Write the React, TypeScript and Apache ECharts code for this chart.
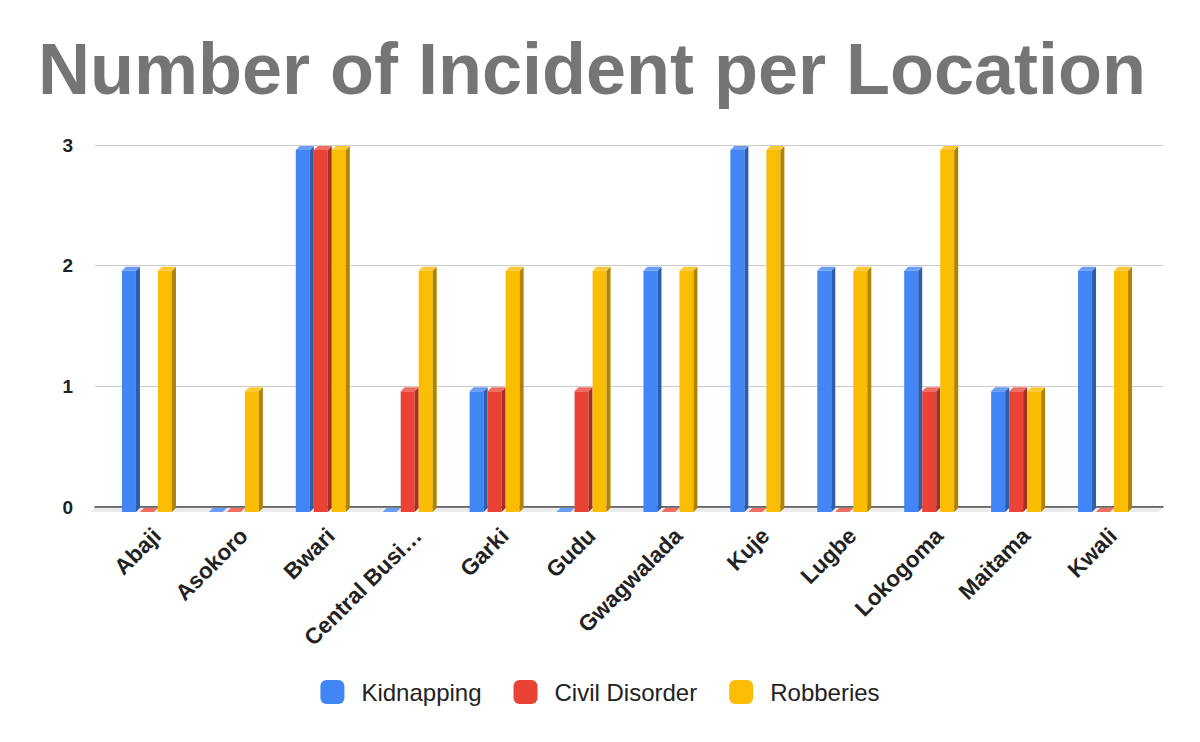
import React, { useEffect, useRef } from "react";
import * as echarts from "echarts";

const categories = [
  "Abaji",
  "Asokoro",
  "Bwari",
  "Central Business District",
  "Garki",
  "Gudu",
  "Gwagwalada",
  "Kuje",
  "Lugbe",
  "Lokogoma",
  "Maitama",
  "Kwali",
];
const kidnapping = [2, 0, 3, 0, 1, 0, 2, 3, 2, 2, 1, 2];
const civilDisorder = [0, 0, 3, 1, 1, 1, 0, 0, 0, 1, 1, 0];
const robberies = [2, 1, 3, 2, 2, 2, 2, 3, 2, 3, 1, 2];
const yTicks = [0, 1, 2, 3];

const FONT = "Arial, 'Liberation Sans', sans-serif";

const seriesDefs = [
  { name: "Kidnapping", data: kidnapping, front: "#4285F4", side: "#2D5EAD", top: "#6A9DF6" },
  { name: "Civil Disorder", data: civilDisorder, front: "#EA4335", side: "#A32F25", top: "#EE6E62" },
  { name: "Robberies", data: robberies, front: "#FBBC04", side: "#B08403", top: "#FCC936" },
];

const FW = 14; // front face width
const DX = 4; // depth x
const DY = 4; // depth y (top face)
const SHIFT = 5; // front plane shift down

function makeRender(s: number, def: any) {
  return (params: any, api: any) => {
    const i = api.value(0);
    const v = api.value(1);
    const top = api.coord([i, v]);
    const base = api.coord([i, 0]);
    const x0 = top[0] - 27 + 18 * s;
    const yf = top[1] + SHIFT;
    const yb = base[1] + SHIFT;
    const children: any[] = [];
    if (yb - yf > 0.5) {
      children.push({
        type: "polygon",
        shape: { points: [[x0, yf], [x0 + FW, yf], [x0 + FW, yb], [x0, yb]] },
        style: { fill: def.front },
      });
      children.push({
        type: "polygon",
        shape: { points: [[x0 + FW, yf], [x0 + FW + DX, yf - DY], [x0 + FW + DX, yb - DY], [x0 + FW, yb]] },
        style: { fill: def.side },
      });
    }
    children.push({
      type: "polygon",
      shape: { points: [[x0, yf], [x0 + FW, yf], [x0 + FW + DX, yf - DY], [x0 + DX, yf - DY]] },
      style: { fill: def.top },
    });
    return { type: "group", children };
  };
}

export default function App() {
  const ref = useRef<HTMLDivElement>(null);
  useEffect(() => {
    document.body.style.margin = "0";
    if (!ref.current) return;
    const chart = echarts.init(ref.current, null, { renderer: "svg" });
    const option: any = {
      animation: false,
      backgroundColor: "#ffffff",
      title: {
        text: "Number of Incident per Location",
        left: 38,
        top: 33,
        padding: 0,
        textStyle: { fontFamily: FONT, fontSize: 72, fontWeight: "bold", color: "#757575" },
      },
      legend: {
        top: 680,
        left: "center",
        padding: 0,
        icon: "roundRect",
        itemWidth: 24,
        itemHeight: 24,
        itemGap: 32,
        data: seriesDefs.map((d) => d.name),
        textStyle: { fontFamily: FONT, fontSize: 24, color: "#222222", padding: [0, 0, 0, 12] },
      },
      grid: [
        { left: 95, right: 37, top: 145, bottom: 235 },
        { left: 105.5, right: 51.5, top: 145, bottom: 235 },
      ],
      xAxis: [
        {
          type: "category",
          gridIndex: 0,
          data: categories,
          axisLine: { show: true, lineStyle: { color: "#333333", width: 1.5 } },
          axisTick: { show: false },
          axisLabel: { show: false },
        },
        {
          type: "category",
          gridIndex: 1,
          data: categories,
          axisLine: { show: false },
          axisTick: { show: false },
          axisLabel: {
            rotate: 45,
            margin: 17,
            interval: 0,
            verticalAlign: "top",
            fontFamily: FONT,
            fontSize: 22.5,
            fontWeight: "bold",
            color: "#222222",
            formatter: (v: string) => (v.length > 12 ? v.slice(0, 12) + "…" : v),
          },
        },
      ],
      yAxis: [
        {
          type: "value",
          gridIndex: 0,
          min: yTicks[0],
          max: yTicks[yTicks.length - 1],
          interval: 1,
          axisLine: { show: false },
          axisTick: { show: false },
          splitLine: { lineStyle: { color: "#cccccc", width: 1 } },
          axisLabel: {
            margin: 22,
            fontFamily: FONT,
            fontSize: 19,
            fontWeight: "bold",
            color: "#222222",
          },
        },
        {
          type: "value",
          gridIndex: 1,
          min: yTicks[0],
          max: yTicks[yTicks.length - 1],
          interval: 1,
          show: false,
          splitLine: { show: false },
        },
      ],
      series: [
        {
          type: "custom",
          name: "floor",
          xAxisIndex: 0,
          yAxisIndex: 0,
          z: 1,
          silent: true,
          data: [[0, 0]],
          renderItem: (params: any) => {
            const cs = params.coordSys;
            const yb = cs.y + cs.height;
            return {
              type: "polygon",
              shape: {
                points: [
                  [cs.x, yb + 0.8],
                  [cs.x + cs.width, yb + 0.8],
                  [cs.x + cs.width - SHIFT, yb + SHIFT],
                  [cs.x - SHIFT, yb + SHIFT],
                ],
              },
              style: { fill: "#ebebeb" },
            };
          },
        },
        ...seriesDefs.map((def, s) => ({
          type: "custom",
          name: def.name,
          xAxisIndex: 1,
          yAxisIndex: 1,
          z: 3,
          itemStyle: { color: def.front },
          data: def.data.map((v, i) => [i, v]),
          encode: { x: 0, y: 1 },
          renderItem: makeRender(s, def),
        })),
      ],
    };
    chart.setOption(option);
    return () => chart.dispose();
  }, []);
  return <div ref={ref} style={{ width: 1200, height: 742 }} />;
}
